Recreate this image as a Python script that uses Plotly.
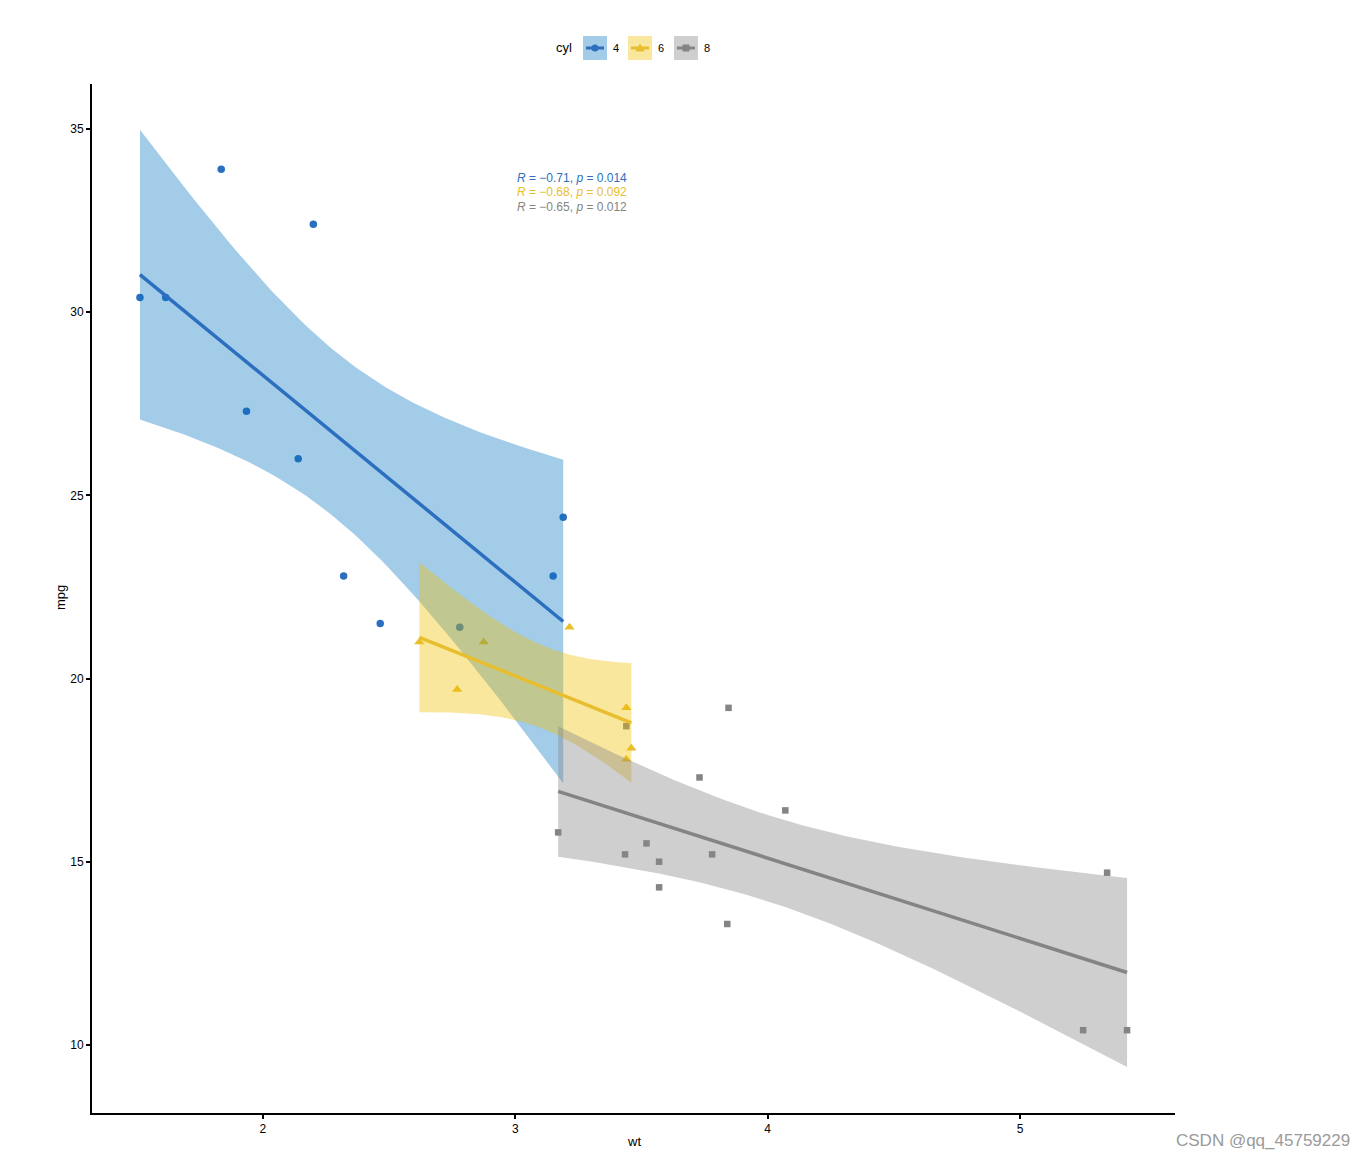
import numpy as np
import plotly.graph_objects as go

# mtcars: weight (1000 lbs) and mpg by cylinder group
wt_4 = [2.320, 3.190, 3.150, 2.200, 1.615, 1.835, 2.465, 1.935, 2.140, 1.513, 2.780]
mpg_4 = [22.8, 24.4, 22.8, 32.4, 30.4, 33.9, 21.5, 27.3, 26.0, 30.4, 21.4]
wt_6 = [2.620, 2.875, 3.215, 3.460, 3.440, 3.440, 2.770]
mpg_6 = [21.0, 21.0, 21.4, 18.1, 19.2, 17.8, 19.7]
wt_8 = [3.440, 3.570, 4.070, 3.730, 3.780, 5.250, 5.424, 5.345, 3.520, 3.435, 3.840, 3.845, 3.170, 3.570]
mpg_8 = [18.7, 14.3, 16.4, 17.3, 15.2, 10.4, 10.4, 14.7, 15.5, 15.2, 13.3, 19.2, 15.8, 15.0]
groups = ["4", "6", "8"]
t_crit = [2.262, 2.571, 2.179]  # 95% t quantiles, df = n-2
labels = ["<i>R</i> = \u22120.71, <i>p</i> = 0.014",
          "<i>R</i> = \u22120.68, <i>p</i> = 0.092",
          "<i>R</i> = \u22120.65, <i>p</i> = 0.012"]

colors = ["#2C6FBF", "#E8BD2E", "#848484"]
fills = ["rgba(0,115,194,0.36)", "rgba(239,192,0,0.38)", "rgba(134,134,134,0.4)"]
symbols = ["circle", "triangle-up", "square"]
sizes = [7.5, 9, 6.5]
data = [(wt_4, mpg_4), (wt_6, mpg_6), (wt_8, mpg_8)]

W, H = 1368, 1158
L, R, T, B = 92, 1175, 84, 1113


def px(x):
    return (x - L) / (R - L)


def py(y):
    return (B - y) / (B - T)


fig = go.Figure()
# points
for (x, y), c, s, sz in zip(data, colors, symbols, sizes):
    fig.add_trace(go.Scatter(x=x, y=y, mode="markers", showlegend=False,
                             marker=dict(color=c, symbol=s, size=sz, line=dict(width=0))))

# regression fits with 95% confidence bands
fits = []
for (x, y), tc in zip(data, t_crit):
    x = np.array(x); y = np.array(y); n = len(x)
    b, a = np.polyfit(x, y, 1)
    resid = y - (a + b * x)
    s = np.sqrt(np.sum(resid ** 2) / (n - 2))
    sxx = np.sum((x - x.mean()) ** 2)
    xs = np.linspace(x.min(), x.max(), 80)
    yh = a + b * xs
    se = s * np.sqrt(1 / n + (xs - x.mean()) ** 2 / sxx)
    fits.append((xs, yh, yh - tc * se, yh + tc * se))

for (xs, yh, lo, hi), f in zip(fits, fills):
    fig.add_trace(go.Scatter(x=np.concatenate([xs, xs[::-1]]), y=np.concatenate([hi, lo[::-1]]),
                             fill="toself", fillcolor=f, line=dict(width=0), mode="lines",
                             showlegend=False, hoverinfo="skip"))
for (xs, yh, lo, hi), c in zip(fits, colors):
    fig.add_trace(go.Scatter(x=xs, y=yh, mode="lines", line=dict(color=c, width=3.5), showlegend=False))

# correlation labels
for lab, c, yv in zip(labels, colors, [33.66, 33.27, 32.87]):
    fig.add_annotation(x=3.0, y=yv, text=lab, showarrow=False, xanchor="left", yanchor="middle",
                       font=dict(color=c, size=12))

# manual legend (top centre)
fig.add_annotation(x=px(564), y=py(48), xref="paper", yref="paper", text="cyl", showarrow=False,
                   xanchor="center", yanchor="middle", font=dict(size=13))
key_left = [583, 628, 674]
for g, c, f, s, kx in zip(groups, colors, fills, symbols, key_left):
    fig.add_shape(type="rect", xref="paper", yref="paper", x0=px(kx), x1=px(kx + 24),
                  y0=py(60), y1=py(36), fillcolor=f, line=dict(width=0), layer="above")
    fig.add_shape(type="line", xref="paper", yref="paper", x0=px(kx + 3), x1=px(kx + 21),
                  y0=py(48), y1=py(48), line=dict(color=c, width=3), layer="above")
    cx = kx + 12
    if s == "circle":
        fig.add_shape(type="circle", xref="paper", yref="paper", x0=px(cx - 3.5), x1=px(cx + 3.5),
                      y0=py(51.5), y1=py(44.5), fillcolor=c, line=dict(width=0), layer="above")
    elif s == "triangle-up":
        path = "M %f %f L %f %f L %f %f Z" % (px(cx - 4.5), py(51.5), px(cx + 4.5), py(51.5), px(cx), py(43.5))
        fig.add_shape(type="path", xref="paper", yref="paper", path=path, fillcolor=c,
                      line=dict(width=0), layer="above")
    else:
        fig.add_shape(type="rect", xref="paper", yref="paper", x0=px(cx - 3.5), x1=px(cx + 3.5),
                      y0=py(51.5), y1=py(44.5), fillcolor=c, line=dict(width=0), layer="above")
    fig.add_annotation(x=px(kx + 33), y=py(48), xref="paper", yref="paper", text=g, showarrow=False,
                       xanchor="center", yanchor="middle", font=dict(size=11))

# axis titles
fig.add_annotation(x=px(634), y=py(1141), xref="paper", yref="paper", text="wt", showarrow=False,
                   xanchor="center", yanchor="middle", font=dict(size=13))
fig.add_annotation(x=px(60), y=py(598), xref="paper", yref="paper", text="mpg", showarrow=False,
                   textangle=-90, xanchor="center", yanchor="middle", font=dict(size=13))

fig.add_annotation(x=px(1352), y=py(1140), xref="paper", yref="paper", xanchor="right", yanchor="middle",
                   text="CSDN @qq_45759229", showarrow=False, font=dict(size=17, color="#9a9a9a"))

fig.update_layout(
    width=W, height=H, plot_bgcolor="white", paper_bgcolor="white",
    margin=dict(l=L, r=W - R, t=T, b=H - B), showlegend=False,
    font=dict(family="Liberation Sans, Arial, sans-serif", color="black", size=13),
    xaxis=dict(range=[1.323, 5.614], tickvals=[2, 3, 4, 5], showgrid=False, zeroline=False,
               showline=True, linecolor="black", linewidth=2, ticks="outside", ticklen=4,
               tickwidth=1.5, tickcolor="black", automargin=False, tickfont=dict(size=12)),
    yaxis=dict(range=[8.14, 36.23], tickvals=[10, 15, 20, 25, 30, 35], showgrid=False, zeroline=False,
               showline=True, linecolor="black", linewidth=2, ticks="outside", ticklen=4,
               tickwidth=1.5, tickcolor="black", automargin=False, tickfont=dict(size=12)),
)

fig.write_html("out.html")
